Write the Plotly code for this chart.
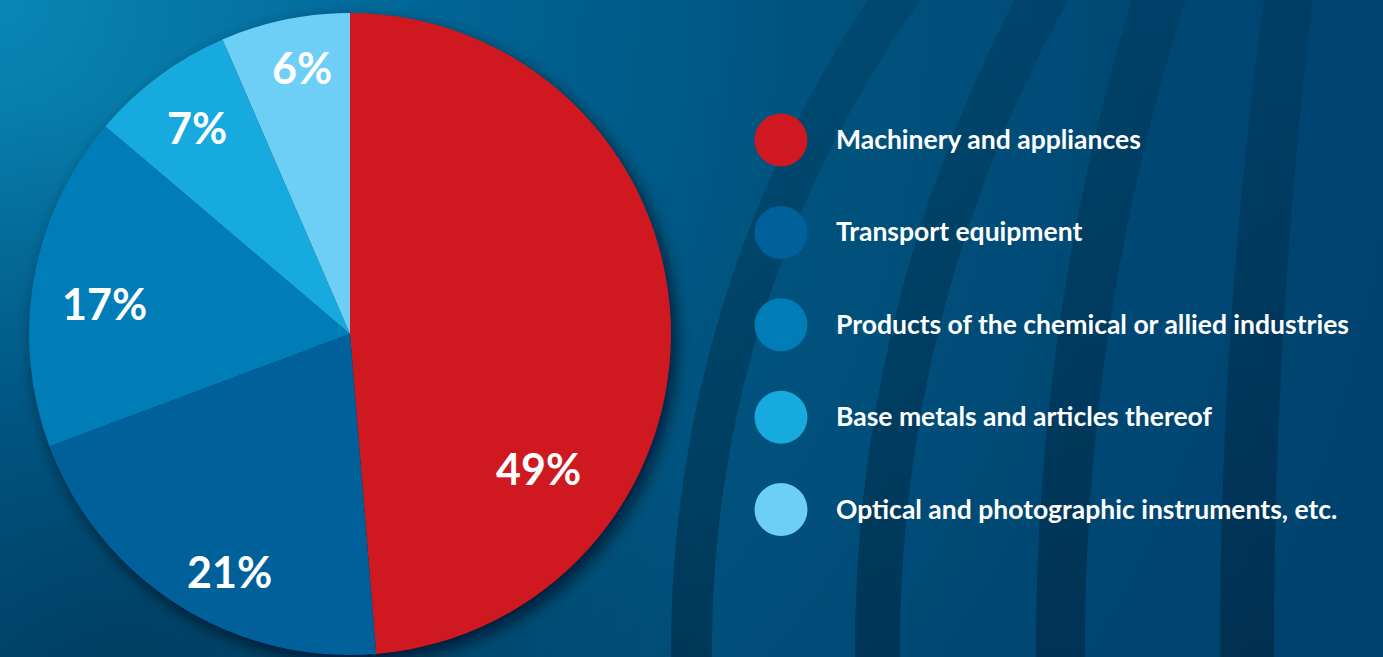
import base64
import math
import plotly.graph_objects as go

# ---------------- data ----------------
categories = [
    "Machinery and appliances",
    "Transport equipment",
    "Products of the chemical or allied industries",
    "Base metals and articles thereof",
    "Optical and photographic instruments, etc.",
]
# slice sizes
shares = [48.7, 20.6, 16.9, 7.3, 6.5]
# printed labels
share_labels = ["49%", "21%", "17%", "7%", "6%"]
slice_colors = ["#cf1820", "#00619a", "#007cb7", "#16aadf", "#6dcff5"]

# label placement style: (angle offset from slice middle in degrees, radius fraction)
label_style = [(37.9, 0.72), (-5.5, 0.83), (-2.9, 0.77), (0.0, 0.80), (1.4, 0.845)]

# ---------------- canvas ----------------
W, H = 1383, 657
PIE_CX, PIE_CY, PIE_R = 350, 334, 321

# decorative background arcs: (left edge x at bottom, left edge x at top, right edge x at bottom, right edge x at top)
ARC_TANGENT_Y = 650
arc_edges = [
    (671, 858, 712, 910),
    (855, 1007, 900, 1060),
    (1036, 1127, 1085, 1181),
    (1220, 1262, 1274, 1311),
]


def edge_points(xmin, xtop, ytop=15):
    dy = ARC_TANGENT_Y - ytop
    shift = xtop - xmin
    r = (dy * dy + shift * shift) / (2 * shift)
    cx = xmin + r
    pts = []
    for i in range(0, 71):
        y = -10 + i * 10
        d = y - ARC_TANGENT_Y
        x = cx - math.sqrt(max(r * r - d * d, 0))
        pts.append((x, y))
    return pts


paths = []
for a, b, c, d in arc_edges:
    left = edge_points(a, b)
    right = edge_points(c, d)[::-1]
    pts = left + right
    p = "M " + " L ".join(f"{x:.1f},{y:.1f}" for x, y in pts) + " Z"
    paths.append(f'<path d="{p}" fill="url(#stripe)"/>')

svg = f'''<svg xmlns="http://www.w3.org/2000/svg" width="{W}" height="{H}" viewBox="0 0 {W} {H}">
<defs>
 <radialGradient id="bg" gradientUnits="userSpaceOnUse" cx="0" cy="0" r="1450">
  <stop offset="0" stop-color="#0a86b6"/>
  <stop offset="0.3" stop-color="#006596"/>
  <stop offset="0.55" stop-color="#00547f"/>
  <stop offset="0.8" stop-color="#004874"/>
  <stop offset="1" stop-color="#00426e"/>
 </radialGradient>
 <radialGradient id="vig" gradientUnits="userSpaceOnUse" cx="120" cy="700" r="600">
  <stop offset="0" stop-color="#001a33" stop-opacity="0.45"/>
  <stop offset="1" stop-color="#001a33" stop-opacity="0"/>
 </radialGradient>
 <linearGradient id="stripe" gradientUnits="userSpaceOnUse" x1="0" y1="0" x2="0" y2="{H}">
  <stop offset="0" stop-color="#001020" stop-opacity="0.14"/>
  <stop offset="1" stop-color="#001020" stop-opacity="0.36"/>
 </linearGradient>
 <filter id="blur" x="-20%" y="-20%" width="140%" height="140%">
  <feGaussianBlur stdDeviation="8"/>
 </filter>
</defs>
<rect x="0" y="0" width="{W}" height="{H}" fill="url(#bg)"/>
<rect x="0" y="0" width="{W}" height="{H}" fill="url(#vig)"/>
{''.join(paths)}
<circle cx="{PIE_CX + 5}" cy="{PIE_CY + 7}" r="{PIE_R}" fill="#000814" fill-opacity="0.65" filter="url(#blur)"/>
</svg>'''
bg_uri = "data:image/svg+xml;base64," + base64.b64encode(svg.encode()).decode()

FONT = "Lato"

fig = go.Figure()

fig.add_trace(go.Pie(
    labels=categories,
    values=shares,
    text=share_labels,
    sort=False,
    direction="clockwise",
    rotation=0,
    marker=dict(colors=slice_colors, line=dict(width=0)),
    textinfo="none",
    hovertemplate="%{label}: %{text}<extra></extra>",
    showlegend=False,
    domain=dict(x=[(PIE_CX - PIE_R) / W, (PIE_CX + PIE_R) / W],
                y=[(H - PIE_CY - PIE_R) / H, (H - PIE_CY + PIE_R) / H]),
))

# percentage labels placed from the slice angles
total = sum(shares)
cum = 0.0
for val, lab, (off, rf) in zip(shares, share_labels, label_style):
    mid = (cum + val / 2) / total * 360.0
    cum += val
    ang = math.radians(mid + off)
    lx = PIE_CX + rf * PIE_R * math.sin(ang)
    ly = PIE_CY - rf * PIE_R * math.cos(ang)
    fig.add_annotation(
        x=lx, y=ly, xref="x", yref="y", text=lab, showarrow=False,
        xanchor="center", yanchor="middle",
        font=dict(family=FONT, size=43, color="white", weight="bold"),
    )

# custom legend with large round swatches
LEG_X, LEG_TEXT_X, LEG_Y0, LEG_STEP, LEG_SIZE = 781, 834, 140, 92.4, 53
leg_y = [LEG_Y0 + i * LEG_STEP for i in range(len(categories))]
fig.add_trace(go.Scatter(
    x=[LEG_X] * len(categories),
    y=leg_y,
    mode="markers",
    marker=dict(size=LEG_SIZE, color=slice_colors, line=dict(width=0)),
    hoverinfo="skip",
    showlegend=False,
))
for cat, y in zip(categories, leg_y):
    fig.add_annotation(
        x=LEG_TEXT_X, y=y - 1, xref="x", yref="y", text=cat, showarrow=False,
        xanchor="left", yanchor="middle",
        font=dict(family=FONT, size=26.5, color="white", weight="bold"),
    )

fig.update_layout(
    width=W, height=H,
    margin=dict(l=0, r=0, t=0, b=0),
    paper_bgcolor="#004a78",
    plot_bgcolor="rgba(0,0,0,0)",
    xaxis=dict(range=[0, W], domain=[0, 1], visible=False, fixedrange=True),
    yaxis=dict(range=[H, 0], domain=[0, 1], visible=False, fixedrange=True),
    images=[dict(source=bg_uri, xref="paper", yref="paper", x=0, y=1,
                 sizex=1, sizey=1, xanchor="left", yanchor="top",
                 sizing="stretch", layer="below")],
    showlegend=False,
)

fig.write_html("out.html")
